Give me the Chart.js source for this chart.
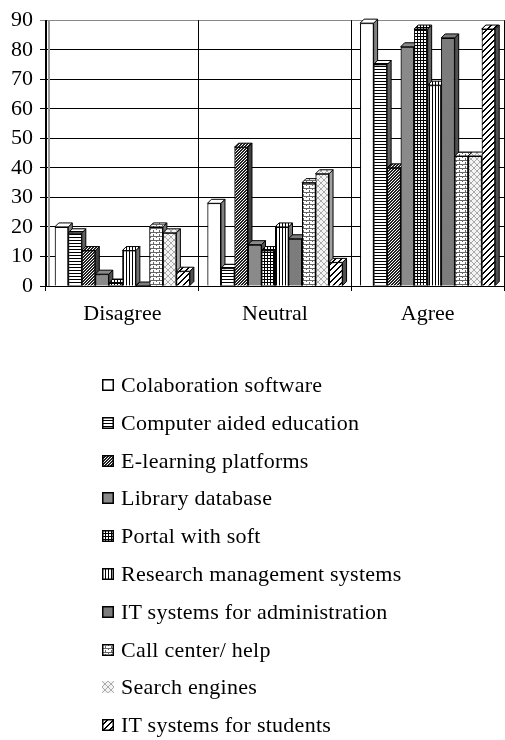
<!DOCTYPE html>
<html><head><meta charset="utf-8">
<script src="https://cdn.jsdelivr.net/npm/chart.js@4.4.1/dist/chart.umd.min.js"></script>
<style>
html,body{margin:0;padding:0;background:#fff;overflow:hidden;width:505px;height:740px;}
#wrap{position:absolute;left:0;top:0;width:505px;height:340px;}
#legend{position:absolute;left:0;top:0;width:505px;height:740px;font-family:"Liberation Serif",serif;font-size:22px;letter-spacing:0.25px;color:#000;pointer-events:none;}
.item{position:absolute;left:102px;height:22px;line-height:22px;display:flex;align-items:center;white-space:nowrap;}
.item canvas{width:12px;height:12px;margin-right:7px;display:block;}
</style></head>
<body>
<div id="wrap"><canvas id="c" width="505" height="340"></canvas></div>
<div id="legend"></div>
<script>
// ---- data ----
const categories = ['Disagree', 'Neutral', 'Agree'];
const seriesNames = ['Colaboration software', 'Computer aided education', 'E-learning platforms',
  'Library database', 'Portal with soft', 'Research management systems',
  'IT systems for administration', 'Call center/ help', 'Search engines', 'IT systems for students'];
const colaborationSoftware = [20, 28, 89];
const computerAidedEducation = [18, 6, 75];
const eLearningPlatforms = [12, 47, 40];
const libraryDatabase = [4, 14, 81];
const portalWithSoft = [1, 12, 87];
const researchManagement = [12, 20, 68];
const itAdministration = [0, 16, 84];
const callCenterHelp = [20, 35, 44];
const searchEngines = [18, 38, 44];
const itStudents = [5, 8, 87];
const yTicks = [0, 10, 20, 30, 40, 50, 60, 70, 80, 90];

const seriesValues = [colaborationSoftware, computerAidedEducation, eLearningPlatforms, libraryDatabase,
  portalWithSoft, researchManagement, itAdministration, callCenterHelp, searchEngines, itStudents];

// ---- patterns ----
function tile(w, h, draw) {
  const c = document.createElement('canvas'); c.width = w; c.height = h;
  const x = c.getContext('2d'); draw(x, w, h);
  return x.createPattern(c, 'repeat');
}
const fills = [
  '#ffffff',
  tile(4, 3, (x, w) => { x.fillStyle = '#fff'; x.fillRect(0, 0, w, 3); x.fillStyle = '#000'; x.fillRect(0, 0, w, 1); }),
  tile(3, 3, (x) => { x.fillStyle = '#222'; x.fillRect(0, 0, 3, 3); x.fillStyle = '#fff';
    for (let i = 0; i < 3; i++) { x.fillRect(i, 2 - i, 1, 1); } }),
  '#8a8a8a',
  tile(3, 3, (x) => { x.fillStyle = '#fff'; x.fillRect(0, 0, 3, 3); x.fillStyle = '#000'; x.fillRect(0, 0, 3, 1); x.fillRect(0, 0, 1, 3); }),
  tile(3, 4, (x) => { x.fillStyle = '#fff'; x.fillRect(0, 0, 3, 4); x.fillStyle = '#000'; x.fillRect(0, 0, 1, 4); }),
  '#7c7c7c',
  tile(6, 4, (x) => { x.fillStyle = '#fff'; x.fillRect(0, 0, 6, 4); x.fillStyle = '#666';
    x.fillRect(0, 0, 6, 1); x.fillRect(0, 0, 1, 2); x.fillRect(3, 2, 1, 2); }),
  tile(6, 6, (x) => { x.fillStyle = '#f4f4f4'; x.fillRect(0, 0, 6, 6); x.fillStyle = '#aaa';
    for (let i = 0; i < 6; i++) { x.fillRect(i, i, 1, 1); x.fillRect(5 - i, i, 1, 1); } }),
  tile(6, 6, (x) => { x.fillStyle = '#fff'; x.fillRect(0, 0, 6, 6); x.fillStyle = '#000';
    for (let i = 0; i < 6; i++) { x.fillRect((5 - i + 6) % 6, i, 2, 1); if (5 - i + 1 >= 6) x.fillRect(0, i, 1, 1); } })
];
const sideColors = ['#808080', '#606060', '#404040', '#505050', '#606060', '#707070', '#505050', '#707070', '#a0a0a0', '#505050'];

const depth = 4;
const bar3d = {
  id: 'bar3d',
  beforeDatasetsDraw(chart) {
    const { ctx, chartArea } = chart;
    ctx.save();
    ctx.strokeStyle = '#999'; ctx.lineWidth = 2;
    ctx.beginPath(); ctx.moveTo(chartArea.left + 3, chartArea.top); ctx.lineTo(chartArea.left + 3, chartArea.bottom); ctx.stroke();
    ctx.restore();
  },
  afterDatasetsDraw(chart) {
    const ctx = chart.ctx;
    ctx.save();
    // redraw bars left-to-right so each bar covers its left neighbour's side face
    for (let c = 0; c < categories.length; c++) {
      for (let i = 0; i < chart.data.datasets.length; i++) {
        const el = chart.getDatasetMeta(i).data[c];
        if (!el) continue;
        el.draw(ctx, chart.chartArea);
        const p = el.getProps(['x', 'y', 'base', 'width'], true);
        const l = p.x - p.width / 2, r = p.x + p.width / 2, y = p.y, b = p.base;
        ctx.lineWidth = 1; ctx.strokeStyle = '#000';
        ctx.beginPath(); ctx.moveTo(r, y); ctx.lineTo(r + depth, y - depth); ctx.lineTo(r + depth, b - depth); ctx.lineTo(r, b); ctx.closePath();
        ctx.fillStyle = sideColors[i]; ctx.fill(); ctx.stroke();
        ctx.beginPath(); ctx.moveTo(l, y); ctx.lineTo(l + depth, y - depth); ctx.lineTo(r + depth, y - depth); ctx.lineTo(r, y); ctx.closePath();
        ctx.fillStyle = fills[i]; ctx.fill(); ctx.stroke();
      }
    }
    ctx.restore();
  }
};

const font = { family: '"Liberation Serif", serif', size: 22 };
const datasets = seriesNames.map((name, i) => ({
  label: name,
  data: seriesValues[i],
  backgroundColor: fills[i],
  borderColor: '#000',
  borderWidth: 1,
  categoryPercentage: 0.885,
  barPercentage: 1.0
}));

new Chart(document.getElementById('c'), {
  type: 'bar',
  data: { labels: categories, datasets },
  options: {
    responsive: false,
    animation: false,
    devicePixelRatio: 1,
    layout: { padding: { left: 0, top: 15, right: 1, bottom: 0 } },
    plugins: { legend: { display: false }, tooltip: { enabled: false } },
    scales: {
      y: {
        min: 0, max: 90,
        afterBuildTicks: s => { s.ticks = yTicks.map(v => ({ value: v })); },
        afterFit: s => { s.width = 46; },
        ticks: { font, color: '#000', padding: 7 },
        grid: { color: c => (c.tick && c.tick.value === 90 ? '#888' : '#000'), lineWidth: 1, tickLength: 6, drawTicks: true },
        border: { display: true, color: '#000', width: 1 }
      },
      x: {
        afterFit: s => { s.height = 54; },
        ticks: { font, color: '#000', padding: 10 },
        grid: { offset: true, color: '#000', lineWidth: 1, tickLength: 5 },
        border: { display: true, color: '#000', width: 1 }
      }
    }
  },
  plugins: [bar3d]
});

// ---- legend ----
const legend = document.getElementById('legend');
seriesNames.forEach((name, i) => {
  const d = document.createElement('div');
  d.className = 'item';
  d.style.top = (374 + i * 37.8) + 'px';
  const sw = document.createElement('canvas'); sw.width = 12; sw.height = 12;
  const sx = sw.getContext('2d');
  sx.fillStyle = fills[i]; sx.fillRect(0, 0, 12, 12);
  if (i !== 8) { sx.strokeStyle = '#000'; sx.lineWidth = 1.5; sx.strokeRect(0.75, 0.75, 10.5, 10.5); }
  const t = document.createElement('span'); t.textContent = name;
  d.appendChild(sw); d.appendChild(t);
  legend.appendChild(d);
});
</script>
</body></html>
